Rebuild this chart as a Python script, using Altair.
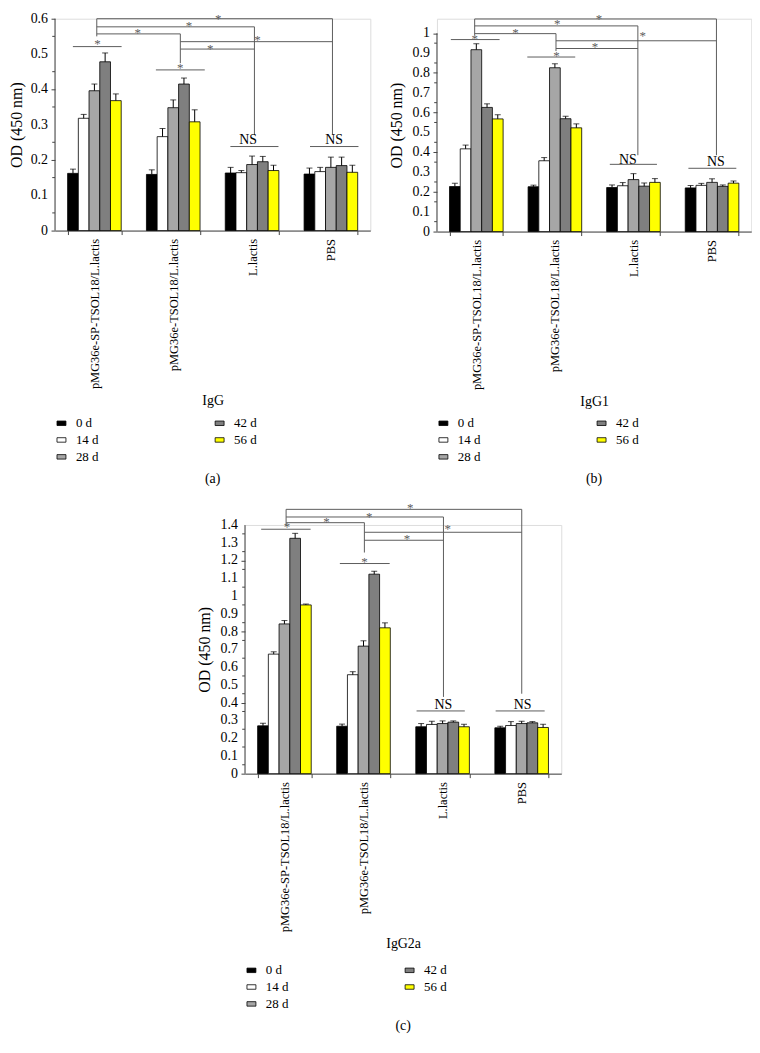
import altair as alt
import pandas as pd

FONT = "Liberation Serif"
LINE = "#5c5c5c"
AXIS = "#444444"

GROUPS = ["pMG36e-SP-TSOL18/L.lactis", "pMG36e-TSOL18/L.lactis", "L.lactis", "PBS"]
DAYS = ["0 d", "14 d", "28 d", "42 d", "56 d"]
DAY_COLORS = ["#000000", "#ffffff", "#a6a6a6", "#7f7f7f", "#ffff00"]

# ---------------- (a) IgG ----------------
IGG_VALUES = [
    [0.162, 0.318, 0.396, 0.478, 0.368],
    [0.159, 0.266, 0.348, 0.415, 0.308],
    [0.163, 0.164, 0.187, 0.195, 0.170],
    [0.160, 0.167, 0.179, 0.184, 0.165],
]
IGG_ERRORS = [
    [0.012, 0.011, 0.019, 0.025, 0.019],
    [0.013, 0.023, 0.022, 0.017, 0.034],
    [0.016, 0.006, 0.024, 0.015, 0.015],
    [0.017, 0.012, 0.029, 0.024, 0.020],
]
IGG_TICKS = [0, 0.1, 0.2, 0.3, 0.4, 0.5, 0.6]
# significance brackets (x in group units, 0..4; y in OD units)
IGG_H_X1 = [0.53, 0.53, 0.53, 1.59, 1.59, 0.227, 1.28, 2.225, 3.235]
IGG_H_X2 = [3.52, 2.53, 1.59, 3.52, 2.53, 0.845, 1.90, 2.835, 3.85]
IGG_H_Y = [0.600, 0.577, 0.557, 0.535, 0.514, 0.521, 0.455, 0.238, 0.238]
IGG_V_X = [0.53, 1.59, 2.53, 3.52]
IGG_V_Y1 = [0.600, 0.557, 0.577, 0.600]
IGG_V_Y2 = [0.550, 0.474, 0.271, 0.271]
IGG_T_X = [2.07, 1.70, 1.05, 2.57, 1.97, 0.54, 1.59, 2.45, 3.54]
IGG_T_Y = [0.608, 0.589, 0.568, 0.549, 0.523, 0.537, 0.469, 0.257, 0.257]
IGG_T_TEXT = ["*", "*", "*", "*", "*", "*", "*", "NS", "NS"]

# ---------------- (b) IgG1 ----------------
IGG1_VALUES = [
    [0.227, 0.417, 0.917, 0.626, 0.568],
    [0.226, 0.357, 0.826, 0.569, 0.523],
    [0.222, 0.231, 0.262, 0.229, 0.248],
    [0.220, 0.233, 0.248, 0.228, 0.244],
]
IGG1_ERRORS = [
    [0.016, 0.019, 0.030, 0.018, 0.021],
    [0.008, 0.016, 0.020, 0.012, 0.020],
    [0.013, 0.016, 0.030, 0.016, 0.019],
    [0.012, 0.010, 0.018, 0.007, 0.011],
]
IGG1_TICKS = [0, 0.1, 0.2, 0.3, 0.4, 0.5, 0.6, 0.7, 0.8, 0.9, 1.0]
IGG1_H_X1 = [0.48, 0.48, 0.48, 1.515, 1.515, 0.177, 1.15, 2.20, 3.20]
IGG1_H_X2 = [3.557, 2.557, 1.515, 3.557, 2.557, 0.797, 1.76, 2.80, 3.81]
IGG1_H_Y = [1.072, 1.037, 0.998, 0.962, 0.923, 0.968, 0.880, 0.339, 0.319]
IGG1_V_X = [0.48, 1.515, 2.557, 3.557]
IGG1_V_Y1 = [1.072, 0.998, 1.037, 1.072]
IGG1_V_Y2 = [0.990, 0.910, 0.385, 0.385]
IGG1_T_X = [2.063, 1.53, 1.00, 2.62, 2.01, 0.48, 1.52, 2.43, 3.55]
IGG1_T_Y = [1.089, 1.062, 1.018, 1.000, 0.946, 0.985, 0.900, 0.361, 0.353]
IGG1_T_TEXT = ["*", "*", "*", "*", "*", "*", "*", "NS", "NS"]

# ---------------- (c) IgG2a ----------------
IGG2A_VALUES = [
    [0.269, 0.673, 0.843, 1.325, 0.950],
    [0.267, 0.557, 0.718, 1.123, 0.821],
    [0.264, 0.277, 0.282, 0.290, 0.264],
    [0.258, 0.271, 0.282, 0.286, 0.260],
]
IGG2A_ERRORS = [
    [0.015, 0.013, 0.019, 0.028, 0.005],
    [0.012, 0.017, 0.030, 0.017, 0.028],
    [0.018, 0.018, 0.015, 0.007, 0.014],
    [0.009, 0.022, 0.013, 0.007, 0.018],
]
IGG2A_TICKS = [0, 0.1, 0.2, 0.3, 0.4, 0.5, 0.6, 0.7, 0.8, 0.9, 1.0, 1.1, 1.2, 1.3, 1.4]
IGG2A_H_X1 = [0.52, 0.52, 0.52, 1.51, 1.51, 0.205, 1.20, 2.17, 3.17]
IGG2A_H_X2 = [3.50, 2.51, 1.51, 3.50, 2.51, 0.83, 1.83, 2.78, 3.79]
IGG2A_H_Y = [1.488, 1.445, 1.413, 1.359, 1.314, 1.376, 1.183, 0.353, 0.353]
IGG2A_V_X = [0.52, 1.51, 2.51, 3.50]
IGG2A_V_Y1 = [1.488, 1.413, 1.445, 1.488]
IGG2A_V_Y2 = [1.394, 1.245, 0.432, 0.450]
IGG2A_T_X = [2.09, 1.57, 1.03, 2.565, 2.05, 0.53, 1.51, 2.51, 3.51]
IGG2A_T_Y = [1.510, 1.464, 1.432, 1.394, 1.338, 1.404, 1.207, 0.385, 0.385]
IGG2A_T_TEXT = ["*", "*", "*", "*", "*", "*", "*", "NS", "NS"]


def panel(vals, errs, ticks, ytop, width, height, xtitle, label,
          hx1, hx2, hy, vx, vy1, vy2, tx, ty, tt, legend_y, title_offset, ytitle_pad):
    rows = []
    for gi, g in enumerate(GROUPS):
        for di, d in enumerate(DAYS):
            rows.append(dict(group=g, day=d, value=vals[gi][di],
                             top=vals[gi][di] + errs[gi][di]))
    df = pd.DataFrame(rows)
    axis_max = ticks[-1]
    minor = [(ticks[i] + ticks[i + 1]) / 2 for i in range(len(ticks) - 1)]
    yscale = alt.Scale(domain=[0, ytop], nice=False, zero=True)
    yaxis = alt.Axis(
        values=ticks, labels=False, domain=False,
        title="OD (450 nm)", grid=False, tickSize=4,
        titleFontSize=16, titlePadding=ytitle_pad,
    )
    xscale = alt.Scale(paddingInner=0.32, paddingOuter=0.16)
    xaxis = alt.Axis(title=xtitle, labelAngle=-90, tickBand="extent", tickSize=4,
                     labelFontSize=12.5, titleFontSize=14, labelPadding=4, titlePadding=5)
    xoff = alt.XOffset("day:N", sort=DAYS, scale=alt.Scale(paddingInner=0, paddingOuter=0))

    def yq(field):
        return alt.Y(field, scale=yscale)

    bars = alt.Chart(df).mark_bar(stroke="black", strokeWidth=0.8).encode(
        x=alt.X("group:N", sort=GROUPS, scale=xscale, axis=xaxis),
        xOffset=xoff,
        y=alt.Y("value:Q", scale=yscale, axis=yaxis),
        color=alt.Color(
            "day:N", sort=DAYS,
            scale=alt.Scale(domain=DAYS, range=DAY_COLORS),
            legend=alt.Legend(
                title=None, orient="none", legendX=0, legendY=legend_y, columns=2,
                columnPadding=115, rowPadding=3, symbolType="M-1,-0.5H1V0.5H-1Z",
                symbolSize=81, symbolStrokeColor="black", symbolStrokeWidth=0.8,
                labelFont=FONT, labelFontSize=13, labelOffset=8,
            ),
        ),
    )
    err = alt.Chart(df).mark_rule(color="black", strokeWidth=1).encode(
        x=alt.X("group:N", sort=GROUPS, scale=xscale),
        xOffset=xoff,
        y=yq("value:Q"),
        y2="top:Q",
    )
    cap = alt.Chart(df).mark_tick(color="black", thickness=1, size=6, orient="horizontal").encode(
        x=alt.X("group:N", sort=GROUPS, scale=xscale),
        xOffset=xoff,
        y=yq("top:Q"),
    )
    base = alt.layer(bars, err, cap)

    bx = alt.Scale(domain=[0, 4], nice=False, zero=False)
    axdf = pd.DataFrame(dict(x=[0.0], y=[0.0], y2=[axis_max]))
    mdf = pd.DataFrame(dict(x=[-0.035] * len(minor), x2=[0.0] * len(minor), y=minor))
    ldf = pd.DataFrame(dict(x=[0.0] * len(ticks), y=ticks, t=[f"{v:g}" for v in ticks]))
    hdf = pd.DataFrame(dict(x=hx1, x2=hx2, y=hy))
    vdf = pd.DataFrame(dict(x=vx, y=vy1, y2=vy2))
    tdf = pd.DataFrame(dict(x=tx, y=ty, t=tt))
    axline = alt.Chart(axdf).mark_rule(color=AXIS, strokeWidth=1).encode(
        x=alt.X("x:Q", scale=bx, axis=None),
        y=yq("y:Q"), y2="y2:Q",
    )
    minor_ticks = alt.Chart(mdf).mark_rule(color=AXIS, strokeWidth=1).encode(
        x=alt.X("x:Q", scale=bx, axis=None), x2="x2:Q",
        y=yq("y:Q"),
    )
    tick_labels = alt.Chart(ldf).mark_text(
        font=FONT, fontSize=14, color="black", align="right", baseline="middle", dx=-7
    ).encode(
        x=alt.X("x:Q", scale=bx, axis=None),
        y=yq("y:Q"),
        text="t:N",
    )
    hl = alt.Chart(hdf).mark_rule(color=LINE, strokeWidth=1).encode(
        x=alt.X("x:Q", scale=bx, axis=None), x2="x2:Q",
        y=yq("y:Q"),
    )
    vl = alt.Chart(vdf).mark_rule(color=LINE, strokeWidth=1).encode(
        x=alt.X("x:Q", scale=bx, axis=None),
        y=yq("y:Q"), y2="y2:Q",
    )
    stars = alt.Chart(tdf).transform_filter("datum.t == '*'").mark_text(
        font=FONT, fontSize=13, color=LINE, baseline="middle", dy=3, opacity=0.99
    ).encode(
        x=alt.X("x:Q", scale=bx, axis=None),
        y=yq("y:Q"),
        text="t:N",
    )
    ns = alt.Chart(tdf).transform_filter("datum.t != '*'").mark_text(
        font=FONT, fontSize=14, color="black", baseline="middle"
    ).encode(
        x=alt.X("x:Q", scale=bx, axis=None),
        y=yq("y:Q"),
        text="t:N",
    )
    return alt.layer(base, axline, minor_ticks, tick_labels, hl, vl, stars, ns).resolve_scale(
        x="independent"
    ).properties(
        width=width, height=height,
        title=alt.TitleParams(label, orient="bottom", anchor="middle", fontSize=14,
                              font=FONT, fontWeight="normal", offset=title_offset),
    )


pa = panel(IGG_VALUES, IGG_ERRORS, IGG_TICKS, 0.6, 317, 213, "IgG", "(a)",
           IGG_H_X1, IGG_H_X2, IGG_H_Y, IGG_V_X, IGG_V_Y1, IGG_V_Y2,
           IGG_T_X, IGG_T_Y, IGG_T_TEXT, 400, 8, 26)
pb = panel(IGG1_VALUES, IGG1_ERRORS, IGG1_TICKS, 214 / 199.4, 316, 214, "IgG1", "(b)",
           IGG1_H_X1, IGG1_H_X2, IGG1_H_Y, IGG1_V_X, IGG1_V_Y1, IGG1_V_Y2,
           IGG1_T_X, IGG1_T_Y, IGG1_T_TEXT, 400, 8, 28)
pc = panel(IGG2A_VALUES, IGG2A_ERRORS, IGG2A_TICKS, 1.4, 318, 250, "IgG2a", "(c)",
           IGG2A_H_X1, IGG2A_H_X2, IGG2A_H_Y, IGG2A_V_X, IGG2A_V_Y1, IGG2A_V_Y2,
           IGG2A_T_X, IGG2A_T_Y, IGG2A_T_TEXT, 441, 8, 28)

top_row = alt.hconcat(pa, pb, spacing=17).resolve_scale(color="independent").resolve_legend(color="independent")

chart = alt.vconcat(
    top_row,
    pc,
    spacing=14,
    center=True,
).resolve_scale(color="independent").resolve_legend(color="independent").properties(
    padding=0
).configure_view(stroke=None).configure(
    font=FONT
).configure_axis(
    labelFont=FONT, titleFont=FONT, labelColor="black", titleColor="black",
    titleFontWeight="normal", domainColor=AXIS, tickColor=AXIS,
)

chart.save("out.html", embed_options={"renderer": "svg", "actions": False})
